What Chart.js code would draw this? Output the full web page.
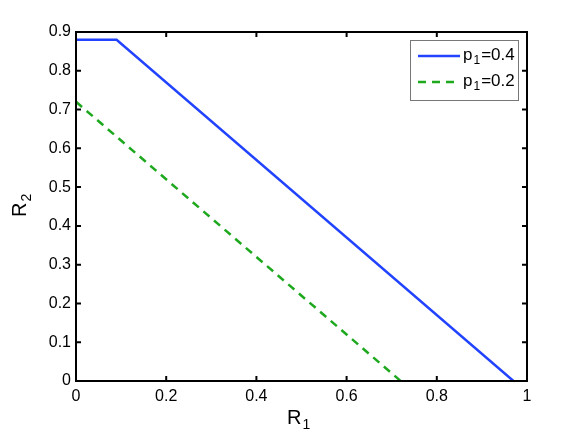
<!DOCTYPE html>
<html>
<head>
<meta charset="utf-8">
<script src="https://cdn.jsdelivr.net/npm/chart.js"></script>
<style>
  html, body { margin: 0; padding: 0; background: #fff; }
  #wrap { width: 582px; height: 438px; }
</style>
</head>
<body>
<div id="wrap"><canvas id="c" width="582" height="438"></canvas></div>
<script>
// data
const seriesNames = ["0.4", "0.2"];
const r1_p04 = [0, 0.09, 0.97];
const r2_p04 = [0.88, 0.88, 0];
const r1_p02 = [0, 0.72];
const r2_p02 = [0.72, 0];
const xTicks = [0, 0.2, 0.4, 0.6, 0.8, 1];
const yTicks = [0, 0.1, 0.2, 0.3, 0.4, 0.5, 0.6, 0.7, 0.8, 0.9];

const FONT = "'Liberation Sans', Arial, Helvetica, sans-serif";

function toPoints(xs, ys) {
  return xs.map((x, i) => ({ x: x, y: ys[i] }));
}

// draw "base" with a subscript at (x, y), left aligned, middle baseline
function subText(ctx, base, sub, rest, x, y, size) {
  ctx.font = size + "px " + FONT;
  ctx.fillText(base, x, y);
  let w = ctx.measureText(base).width;
  let subSize = Math.round(size * 0.7);
  ctx.font = subSize + "px " + FONT;
  ctx.fillText(sub, x + w + 1, y + size * 0.35);
  let w2 = ctx.measureText(sub).width;
  if (rest) {
    ctx.font = size + "px " + FONT;
    ctx.fillText(rest, x + w + w2 + 2, y);
  }
}

// box, inward ticks, axis titles and legend, MATLAB style
const matlabFrame = {
  id: "matlabFrame",
  afterDraw(chart) {
    const ctx = chart.ctx;
    const a = chart.chartArea;
    const xs = chart.scales.x, ys = chart.scales.y;
    ctx.save();
    ctx.strokeStyle = "#000";
    ctx.lineWidth = 2;
    ctx.strokeRect(a.left, a.top, a.right - a.left, a.bottom - a.top);
    ctx.beginPath();
    const tl = 5;
    xTicks.forEach((v) => {
      const px = xs.getPixelForValue(v);
      ctx.moveTo(px, a.bottom); ctx.lineTo(px, a.bottom - tl);
      ctx.moveTo(px, a.top); ctx.lineTo(px, a.top + tl);
    });
    yTicks.forEach((v) => {
      const py = ys.getPixelForValue(v);
      ctx.moveTo(a.left, py); ctx.lineTo(a.left + tl, py);
      ctx.moveTo(a.right, py); ctx.lineTo(a.right - tl, py);
    });
    ctx.stroke();

    // axis titles
    ctx.fillStyle = "#000";
    ctx.textBaseline = "middle";
    ctx.textAlign = "left";
    subText(ctx, "R", "1", "", 287, 418, 20);
    ctx.save();
    ctx.translate(20, 217);
    ctx.rotate(-Math.PI / 2);
    subText(ctx, "R", "2", "", 0, 0, 20);
    ctx.restore();

    // legend
    const lx = 410, ly = 40, lw = 108, lh = 60;
    ctx.fillStyle = "#fff";
    ctx.fillRect(lx, ly, lw, lh);
    ctx.strokeStyle = "#777";
    ctx.lineWidth = 1;
    ctx.strokeRect(lx + 0.5, ly + 0.5, lw, lh);
    chart.data.datasets.forEach((ds, i) => {
      const ry = 56 + i * 26;
      ctx.strokeStyle = ds.borderColor;
      ctx.lineWidth = ds.borderWidth;
      ctx.setLineDash(ds.borderDash || []);
      ctx.beginPath();
      ctx.moveTo(418, ry);
      ctx.lineTo(460, ry);
      ctx.stroke();
      ctx.setLineDash([]);
      ctx.fillStyle = "#000";
      subText(ctx, "p", "1", "=" + seriesNames[i], 463, ry - 1, 17);
    });
    ctx.restore();
  },
};

new Chart(document.getElementById("c"), {
  type: "scatter",
  data: {
    datasets: [
      {
        label: "p1=" + seriesNames[0],
        data: toPoints(r1_p04, r2_p04),
        showLine: true,
        borderColor: "#2243ff",
        borderWidth: 2.5,
        pointRadius: 0,
        fill: false,
      },
      {
        label: "p1=" + seriesNames[1],
        data: toPoints(r1_p02, r2_p02),
        showLine: true,
        borderColor: "#1ea81e",
        borderWidth: 2.5,
        borderDash: [8, 6],
        pointRadius: 0,
        fill: false,
      },
    ],
  },
  options: {
    responsive: false,
    animation: false,
    layout: { padding: { top: 32, right: 55, left: 0, bottom: 0 } },
    plugins: {
      legend: { display: false },
      tooltip: { enabled: false },
    },
    scales: {
      x: {
        type: "linear",
        min: 0,
        max: 1,
        afterBuildTicks: (s) => { s.ticks = xTicks.map((v) => ({ value: v })); },
        afterFit: (s) => { s.height = 57; },
        grid: { display: false, drawTicks: false },
        border: { display: false },
        ticks: {
          color: "#000",
          padding: 6,
          maxRotation: 0,
          font: { family: FONT, size: 16 },
          callback: (v) => String(v),
        },
      },
      y: {
        type: "linear",
        min: 0,
        max: 0.9,
        afterBuildTicks: (s) => { s.ticks = yTicks.map((v) => ({ value: v })); },
        afterFit: (s) => { s.width = 76; },
        grid: { display: false, drawTicks: false },
        border: { display: false },
        ticks: {
          color: "#000",
          padding: 5,
          font: { family: FONT, size: 16 },
          callback: (v) => String(v),
        },
      },
    },
  },
  plugins: [matlabFrame],
});
</script>
</body>
</html>
